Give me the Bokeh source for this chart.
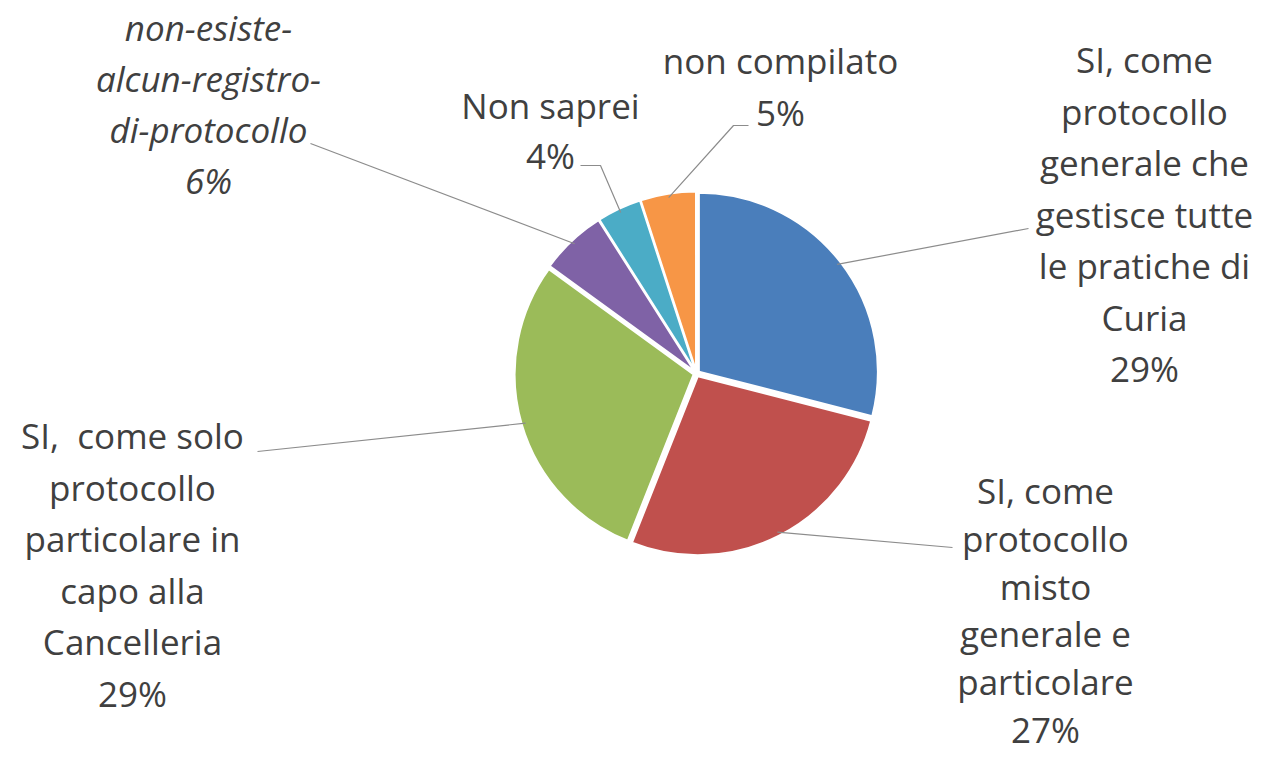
import numpy as np
from bokeh.plotting import figure
from bokeh.models import Range1d
from bokeh.core.properties import value
from bokeh.embed import file_html
from bokeh.resources import INLINE

# ---- data ----
categories = [
    "SI, come protocollo generale che gestisce tutte le pratiche di Curia",
    "SI, come protocollo misto generale e particolare",
    "SI,  come solo protocollo particolare in capo alla Cancelleria",
    "non-esiste-alcun-registro-di-protocollo",
    "Non saprei",
    "non compilato",
]
percent = [29, 27, 29, 6, 4, 5]
label_lines = [
    ["SI, come", "protocollo", "generale che", "gestisce tutte", "le pratiche di", "Curia"],
    ["SI, come", "protocollo", "misto", "generale e", "particolare"],
    ["SI,\u00a0 come solo", "protocollo", "particolare in", "capo alla", "Cancelleria"],
    ["non-esiste-", "alcun-registro-", "di-protocollo"],
    ["Non saprei"],
    ["non compilato"],
]
colors = ["#4a7ebb", "#c0504d", "#9bbb59", "#7f62a6", "#4bacc6", "#f79646"]

# ---- layout (image pixel coordinates) ----
W, H = 1273, 774
FW, FH = W - 16, H - 16
CX, CY, R = 696, 373, 179
EXPLODE = 3
# label block: center x, first baseline y, line spacing
label_pos = [(1144, 72, 51.5), (1045, 503, 47.8), (132, 448, 51.5),
             (208, 40, 51.0), (550, 118, 50.0), (780, 73, 52.0)]
TEXT_DY = -13   # calibration of rendered baseline
italic = [False, False, False, True, False, False]
# leader line label-side anchor points (image coords), polyline
leader_label = [
    [(1028, 228)],
    [(952, 547)],
    [(257, 451)],
    [(310, 143)],
    [(580, 165), (600, 165)],
    [(748, 125), (733, 125)],
]

def fy(y):
    return H - y

p = figure(width=FW, height=FH, output_backend="svg", toolbar_location=None,
           x_range=Range1d(0, FW), y_range=Range1d(H - FH, H),
           min_border=0, outline_line_color=None, background_fill_color="white")
p.axis.visible = False
p.grid.visible = False

frac = np.array(percent, dtype=float) / sum(percent)
cum = np.concatenate([[0], np.cumsum(frac)])
starts = np.pi / 2 - 2 * np.pi * cum[:-1]
ends = np.pi / 2 - 2 * np.pi * cum[1:]
mids = (starts + ends) / 2
xs = CX + EXPLODE * np.cos(mids)
ys = fy(CY) + EXPLODE * np.sin(mids)

p.wedge(x=list(xs), y=list(ys), radius=R, start_angle=list(starts), end_angle=list(ends),
        direction="clock", fill_color=colors, line_color="white", line_width=2)

# leader lines
lx, ly = [], []
for i, m in enumerate(mids):
    px = xs[i] + (R - 4) * np.cos(m)
    py = ys[i] + (R - 4) * np.sin(m)
    pts = leader_label[i]
    lx.append([a for a, b in pts] + [px])
    ly.append([fy(b) for a, b in pts] + [py])
p.multi_line(xs=lx, ys=ly, line_color="#8c8c8c", line_width=1.2)

# labels
tx, ty, tt, tstyle = [], [], [], []
for i, lines in enumerate(label_lines):
    x0, y0, lh = label_pos[i]
    allLines = lines + [f"{percent[i]}%"]
    for k, s in enumerate(allLines):
        tx.append(x0)
        ty.append(fy(y0 + k * lh + TEXT_DY))
        tt.append(s)
        tstyle.append("italic" if italic[i] else "normal")

p.text(x=tx, y=ty, text=tt, text_align="center", text_baseline="alphabetic",
       text_font=value("Open Sans"), text_font_size="35px", text_color="#404040",
       text_font_style=tstyle)

open("out.html", "w").write(file_html(p, INLINE))
